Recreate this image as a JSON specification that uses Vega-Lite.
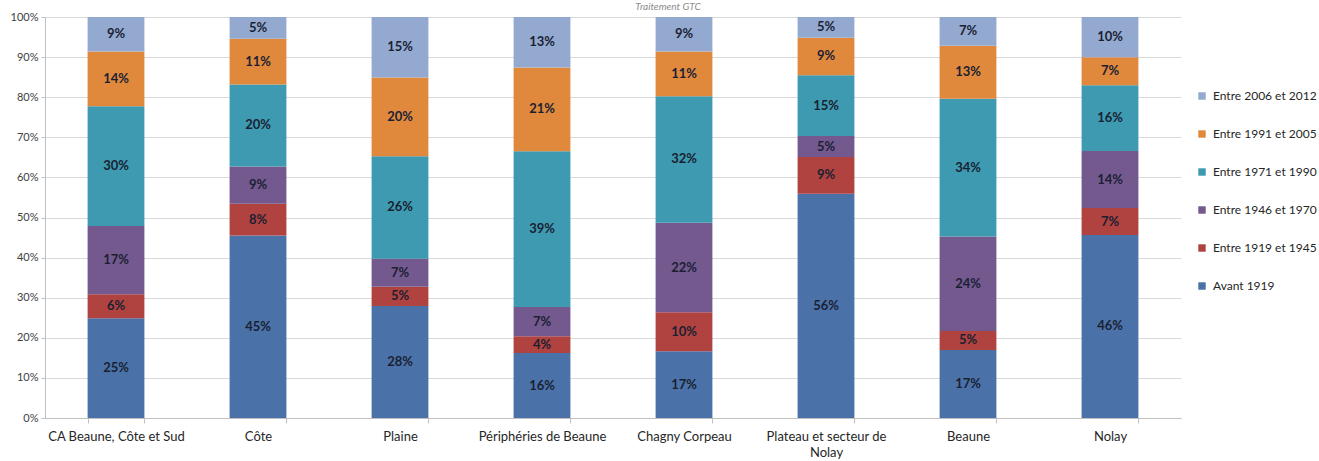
{
  "$schema": "https://vega.github.io/schema/vega-lite/v6.json",
  "width": 1136,
  "height": 401,
  "autosize": {"type": "none"},
  "padding": {"left": 45, "top": 17, "right": 138, "bottom": 43},
  "background": "white",
  "title": {"text": "Traitement GTC", "fontSize": 10, "fontStyle": "italic", "font": "Lato", "fontWeight": "normal", "color": "#8c8c8c", "anchor": "middle", "dx": 55, "dy": 1, "offset": 0},
  "config": {"view": {"stroke": null}, "font": "Lato"},
  "data": {"values": [
    {"zone": "CA Beaune, Côte et Sud", "periode": "Avant 1919", "o": 0, "v": 24.9},
    {"zone": "CA Beaune, Côte et Sud", "periode": "Entre 1919 et 1945", "o": 1, "v": 6.0},
    {"zone": "CA Beaune, Côte et Sud", "periode": "Entre 1946 et 1970", "o": 2, "v": 17.0},
    {"zone": "CA Beaune, Côte et Sud", "periode": "Entre 1971 et 1990", "o": 3, "v": 29.9},
    {"zone": "CA Beaune, Côte et Sud", "periode": "Entre 1991 et 2005", "o": 4, "v": 13.7},
    {"zone": "CA Beaune, Côte et Sud", "periode": "Entre 2006 et 2012", "o": 5, "v": 8.6},
    {"zone": "Côte", "periode": "Avant 1919", "o": 0, "v": 45.4},
    {"zone": "Côte", "periode": "Entre 1919 et 1945", "o": 1, "v": 7.9},
    {"zone": "Côte", "periode": "Entre 1946 et 1970", "o": 2, "v": 9.3},
    {"zone": "Côte", "periode": "Entre 1971 et 1990", "o": 3, "v": 20.4},
    {"zone": "Côte", "periode": "Entre 1991 et 2005", "o": 4, "v": 11.4},
    {"zone": "Côte", "periode": "Entre 2006 et 2012", "o": 5, "v": 5.4},
    {"zone": "Plaine", "periode": "Avant 1919", "o": 0, "v": 27.9},
    {"zone": "Plaine", "periode": "Entre 1919 et 1945", "o": 1, "v": 4.8},
    {"zone": "Plaine", "periode": "Entre 1946 et 1970", "o": 2, "v": 7.0},
    {"zone": "Plaine", "periode": "Entre 1971 et 1990", "o": 3, "v": 25.6},
    {"zone": "Plaine", "periode": "Entre 1991 et 2005", "o": 4, "v": 19.6},
    {"zone": "Plaine", "periode": "Entre 2006 et 2012", "o": 5, "v": 15.1},
    {"zone": "Périphéries de Beaune", "periode": "Avant 1919", "o": 0, "v": 16.2},
    {"zone": "Périphéries de Beaune", "periode": "Entre 1919 et 1945", "o": 1, "v": 4.2},
    {"zone": "Périphéries de Beaune", "periode": "Entre 1946 et 1970", "o": 2, "v": 7.3},
    {"zone": "Périphéries de Beaune", "periode": "Entre 1971 et 1990", "o": 3, "v": 38.9},
    {"zone": "Périphéries de Beaune", "periode": "Entre 1991 et 2005", "o": 4, "v": 20.9},
    {"zone": "Périphéries de Beaune", "periode": "Entre 2006 et 2012", "o": 5, "v": 12.6},
    {"zone": "Chagny Corpeau", "periode": "Avant 1919", "o": 0, "v": 16.7},
    {"zone": "Chagny Corpeau", "periode": "Entre 1919 et 1945", "o": 1, "v": 9.7},
    {"zone": "Chagny Corpeau", "periode": "Entre 1946 et 1970", "o": 2, "v": 22.4},
    {"zone": "Chagny Corpeau", "periode": "Entre 1971 et 1990", "o": 3, "v": 31.6},
    {"zone": "Chagny Corpeau", "periode": "Entre 1991 et 2005", "o": 4, "v": 11.2},
    {"zone": "Chagny Corpeau", "periode": "Entre 2006 et 2012", "o": 5, "v": 8.6},
    {"zone": "Plateau et secteur de Nolay", "periode": "Avant 1919", "o": 0, "v": 55.9},
    {"zone": "Plateau et secteur de Nolay", "periode": "Entre 1919 et 1945", "o": 1, "v": 9.2},
    {"zone": "Plateau et secteur de Nolay", "periode": "Entre 1946 et 1970", "o": 2, "v": 5.2},
    {"zone": "Plateau et secteur de Nolay", "periode": "Entre 1971 et 1990", "o": 3, "v": 15.2},
    {"zone": "Plateau et secteur de Nolay", "periode": "Entre 1991 et 2005", "o": 4, "v": 9.3},
    {"zone": "Plateau et secteur de Nolay", "periode": "Entre 2006 et 2012", "o": 5, "v": 5.2},
    {"zone": "Beaune", "periode": "Avant 1919", "o": 0, "v": 17.0},
    {"zone": "Beaune", "periode": "Entre 1919 et 1945", "o": 1, "v": 4.7},
    {"zone": "Beaune", "periode": "Entre 1946 et 1970", "o": 2, "v": 23.6},
    {"zone": "Beaune", "periode": "Entre 1971 et 1990", "o": 3, "v": 34.4},
    {"zone": "Beaune", "periode": "Entre 1991 et 2005", "o": 4, "v": 13.2},
    {"zone": "Beaune", "periode": "Entre 2006 et 2012", "o": 5, "v": 7.2},
    {"zone": "Nolay", "periode": "Avant 1919", "o": 0, "v": 45.6},
    {"zone": "Nolay", "periode": "Entre 1919 et 1945", "o": 1, "v": 6.7},
    {"zone": "Nolay", "periode": "Entre 1946 et 1970", "o": 2, "v": 14.2},
    {"zone": "Nolay", "periode": "Entre 1971 et 1990", "o": 3, "v": 16.4},
    {"zone": "Nolay", "periode": "Entre 1991 et 2005", "o": 4, "v": 7.0},
    {"zone": "Nolay", "periode": "Entre 2006 et 2012", "o": 5, "v": 10.0}
  ]},
  "transform": [
    {"stack": "v", "groupby": ["zone"], "sort": [{"field": "o", "order": "ascending"}], "offset": "normalize", "as": ["y0", "y1"]},
    {"calculate": "(datum.y0 + datum.y1) / 2", "as": "ym"},
    {"calculate": "format(datum.v, '.0f') + '%'", "as": "lbl"}
  ],
  "encoding": {
    "x": {
      "field": "zone", "type": "nominal", "sort": null, "title": null,
      "scale": {"paddingInner": 0.6, "paddingOuter": 0.3},
      "axis": {
        "labelAngle": 0, "labelFont": "Lato", "labelFontSize": 13, "labelColor": "#262626",
        "labelPadding": 7, "labelLineHeight": 16,
        "labelExpr": "datum.value == 'Plateau et secteur de Nolay' ? ['Plateau et secteur de', 'Nolay'] : datum.value",
        "tickBand": "extent", "tickSize": 5, "tickColor": "#c0c0c0", "domainColor": "#c0c0c0",
        "grid": false
      }
    }
  },
  "layer": [
    {
      "mark": {"type": "bar"},
      "encoding": {
        "y": {
          "field": "y0", "type": "quantitative", "title": null,
          "scale": {"domain": [0, 1], "nice": false},
          "axis": {
            "format": ".0%", "values": [0, 0.1, 0.2, 0.3, 0.4, 0.5, 0.6, 0.7, 0.8, 0.9, 1],
            "labelOverlap": false,
            "labelFont": "Lato", "labelFontSize": 11, "labelColor": "#404040",
            "grid": true, "gridColor": "#d9d9d9", "domainColor": "#c0c0c0",
            "tickColor": "#c0c0c0", "tickSize": 4, "labelPadding": 3
          }
        },
        "y2": {"field": "y1"},
        "color": {
          "field": "periode", "type": "nominal", "title": null,
          "scale": {
            "domain": ["Entre 2006 et 2012", "Entre 1991 et 2005", "Entre 1971 et 1990", "Entre 1946 et 1970", "Entre 1919 et 1945", "Avant 1919"],
            "range": ["#93a9d0", "#e0893c", "#3d9ab0", "#74598f", "#b0433f", "#4a72a8"]
          },
          "legend": {
            "orient": "none", "legendX": 1151, "legendY": 73,
            "symbolType": "square", "symbolSize": 55, "symbolStrokeWidth": 0,
            "labelFont": "Lato", "labelFontSize": 12, "labelColor": "#262626",
            "rowPadding": 26, "labelOffset": 5
          }
        }
      }
    },
    {
      "mark": {"type": "text", "font": "Lato", "fontWeight": "bold", "fontSize": 13, "color": "#1a1f33", "baseline": "middle"},
      "encoding": {
        "y": {"field": "ym", "type": "quantitative"},
        "text": {"field": "lbl", "type": "nominal"}
      }
    }
  ]
}
